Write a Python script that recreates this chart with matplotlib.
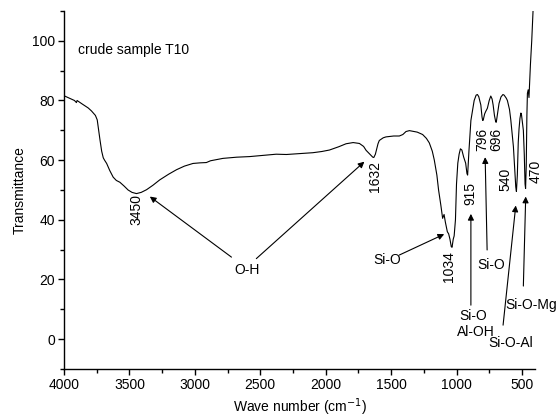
import numpy as np
import matplotlib
matplotlib.use('Agg')
import matplotlib.pyplot as plt
from matplotlib.ticker import MultipleLocator

plt.rcParams['font.family'] = ['Liberation Sans', 'DejaVu Sans']
plt.rcParams['font.size'] = 10

# FTIR spectrum (wave number, transmittance)
wavenumber = [4000, 3960, 3920, 3905, 3900, 3860, 3815, 3790, 3776, 3760, 3746, 3735,
              3725, 3712, 3700, 3690, 3674, 3650, 3624, 3600, 3573, 3540, 3510, 3480,
              3446, 3410, 3369, 3320, 3268, 3200, 3140, 3080, 3014, 2960, 2912, 2880,
              2785, 2680, 2581, 2480, 2378, 2300, 2200, 2098, 2030, 1971, 1900, 1844,
              1790, 1742, 1710, 1691, 1660, 1640, 1632, 1620, 1600, 1590, 1560, 1539,
              1480, 1437, 1410, 1386, 1360, 1336, 1300, 1259, 1230, 1208, 1185, 1170,
              1150, 1137, 1120, 1106, 1095, 1085, 1070, 1060, 1050, 1040, 1034, 1025,
              1018, 1008, 1000, 990, 980, 970, 959, 945, 930, 920, 915, 905,
              895, 890, 880, 865, 850, 840, 830, 814, 805, 800, 796, 785,
              777, 764, 750, 738, 728, 720, 710, 700, 696, 685, 675, 660,
              645, 636, 620, 611, 595, 585, 575, 565, 555, 547, 542, 535,
              528, 522, 515, 508, 504, 497, 489, 482, 476, 472, 467, 462,
              458, 452, 446, 443, 435, 425, 415, 405]
transmittance = [81.6, 80.8, 80.0, 79.3, 80.0, 78.8, 77.5, 76.5, 75.8, 75.0, 73.5, 70.0,
                 66.8, 63.0, 60.8, 60.0, 58.9, 56.5, 54.3, 53.2, 52.6, 51.3, 50.0, 49.2,
                 48.8, 49.2, 50.1, 51.6, 53.4, 55.3, 56.8, 58.0, 58.9, 59.1, 59.2, 59.8,
                 60.6, 61.0, 61.2, 61.6, 62.0, 61.9, 62.2, 62.5, 62.9, 63.4, 64.5, 65.5,
                 65.9, 65.6, 64.6, 63.3, 61.9, 61.0, 60.9, 62.0, 65.5, 66.6, 67.5, 67.8,
                 68.1, 68.1, 68.6, 69.6, 69.9, 69.7, 69.4, 68.6, 67.3, 65.8, 63.0, 60.1,
                 55.0, 50.0, 45.0, 40.5, 41.8, 39.2, 36.0, 35.3, 33.5, 31.0, 30.8, 33.5,
                 34.6, 40.0, 52.0, 59.0, 62.0, 63.8, 63.4, 61.0, 59.0, 55.5, 55.0, 63.0,
                 70.0, 73.3, 76.0, 80.0, 81.8, 82.0, 81.3, 78.5, 74.5, 73.3, 73.4, 75.5,
                 76.3, 77.4, 80.0, 81.5, 80.5, 78.5, 75.0, 72.8, 72.7, 76.0, 79.0, 81.2,
                 82.0, 81.8, 80.8, 80.0, 77.0, 73.5, 69.0, 64.5, 57.0, 51.0, 49.5, 55.0,
                 66.0, 70.5, 74.0, 75.8, 75.5, 73.0, 70.0, 62.0, 52.0, 50.5, 58.0, 75.0,
                 82.4, 83.6, 81.0, 84.0, 92.0, 100.0, 110.0, 120.0]

# peak labels (rotated)
peak_labels = ['3450', '1632', '1034', '915', '796', '696', '540', '470']
peak_x = [3446, 1622, 1056, 895, 800, 698, 623, 394]
peak_y = [43.3, 54.5, 24.3, 48.7, 67.1, 67.1, 53.4, 56.1]

fig = plt.figure(figsize=(5.58, 4.19), dpi=100)
ax = fig.add_axes([64/558, 50/419, 471/558, 358/419])

ax.plot(wavenumber, transmittance, color='k', lw=0.8)

ax.set_xlim(4000, 400)
ax.set_ylim(-10, 110)
ax.xaxis.set_major_locator(MultipleLocator(500))
ax.xaxis.set_minor_locator(MultipleLocator(250))
ax.yaxis.set_major_locator(MultipleLocator(20))
ax.yaxis.set_minor_locator(MultipleLocator(10))
ax.tick_params(which='major', length=4.5, width=1, direction='out', pad=2)
ax.tick_params(which='minor', length=3, width=1, direction='out')
ax.spines['top'].set_visible(False)
ax.spines['right'].set_visible(False)
ax.spines['left'].set_linewidth(1)
ax.spines['bottom'].set_linewidth(1)

ax.set_xlabel('Wave number (cm$^{-1}$)', labelpad=3)
ax.set_ylabel('Transmittance', labelpad=4)

ax.text(3890, 97, 'crude sample T10', ha='left', va='center')

for lab, px, py in zip(peak_labels, peak_x, peak_y):
    ax.text(px, py, lab, rotation=90, ha='center', va='center')

arrow = dict(arrowstyle='-|>', lw=0.8, color='k', mutation_scale=9, shrinkA=0, shrinkB=0)

# O-H
ax.text(2599, 23.2, 'O-H', ha='center', va='center')
ax.annotate('', xy=(3344, 47.8), xytext=(2720, 27.5), arrowprops=arrow)
ax.annotate('', xy=(1704, 59.5), xytext=(2530, 27.0), arrowprops=arrow)

# Si-O (1034)
ax.text(1526, 26.5, 'Si-O', ha='center', va='center')
ax.annotate('', xy=(1094, 35.2), xytext=(1437, 28.2), arrowprops=arrow)

# Si-O (796)
ax.text(738, 25.0, 'Si-O', ha='center', va='center')
ax.annotate('', xy=(781, 61.0), xytext=(766, 29.9), arrowprops=arrow)

# Si-O / Al-OH (915)
ax.text(870, 7.7, 'Si-O', ha='center', va='center')
ax.text(852, 2.5, 'Al-OH', ha='center', va='center')
ax.annotate('', xy=(890, 42.0), xytext=(890, 11.4), arrowprops=arrow)

# Si-O-Al (540)
ax.text(585, -1.2, 'Si-O-Al', ha='center', va='center')
ax.annotate('', xy=(547, 44.8), xytext=(644, 4.7), arrowprops=arrow)

# Si-O-Mg (470)
ax.text(428, 11.6, 'Si-O-Mg', ha='center', va='center')
ax.annotate('', xy=(471, 47.8), xytext=(489, 17.8), arrowprops=arrow)

fig.savefig('out.png', dpi=100)
